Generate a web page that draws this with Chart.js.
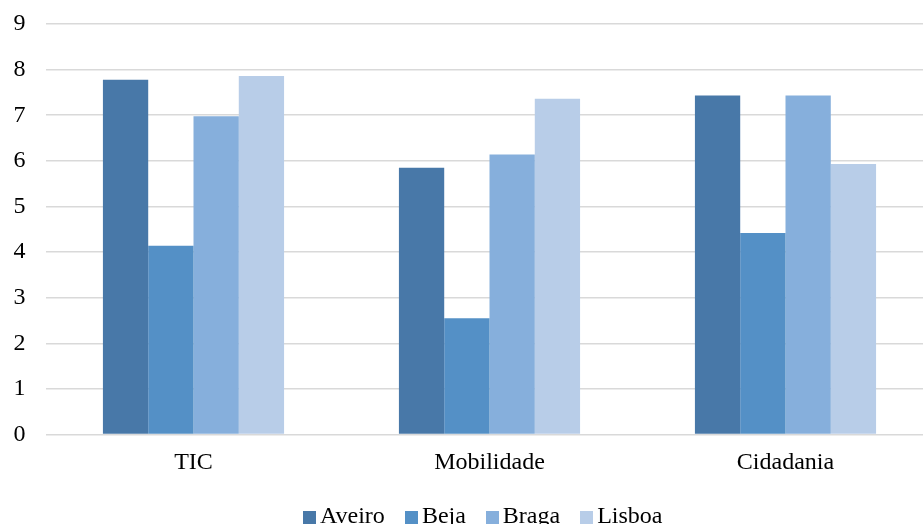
<!DOCTYPE html>
<html>
<head>
<meta charset="utf-8">
<script src="https://cdn.jsdelivr.net/npm/chart.js@4/dist/chart.umd.min.js"></script>
<style>
  html, body { margin: 0; padding: 0; background: #fff; overflow: hidden; width: 923px; height: 524px; }
  #wrap { position: absolute; left: 0; top: 0; }
  #legend {
    position: absolute; left: 303px; top: 503px; white-space: nowrap;
    font-family: 'Liberation Serif', 'Times New Roman', serif; font-size: 24px; line-height: 24px; color: #000;
  }
  #legend .item { display: inline-block; margin-right: 20px; }
  #legend .sw { display: inline-block; width: 13px; height: 13px; margin-right: 4px; vertical-align: -1px; }
</style>
</head>
<body>
<div id="wrap"><canvas id="c" width="945" height="524"></canvas></div>
<div id="legend"></div>
<script>
// Categories and series values
const categories = ['TIC', 'Mobilidade', 'Cidadania'];
const aveiro = [7.78, 5.85, 7.43];
const beja   = [4.14, 2.55, 4.42];
const braga  = [6.98, 6.14, 7.43];
const lisboa = [7.86, 7.36, 5.93];
const seriesNames = ['Aveiro', 'Beja', 'Braga', 'Lisboa'];
const yTicks = [0, 1, 2, 3, 4, 5, 6, 7, 8, 9];

const colors = ['#4878A8', '#5490C6', '#86AFDC', '#B8CDE8'];
const FONT = 'Liberation Serif';

function buildLegend(chart) {
  const box = document.getElementById('legend');
  box.innerHTML = '';
  chart.data.datasets.forEach(ds => {
    const item = document.createElement('span');
    item.className = 'item';
    const sw = document.createElement('span');
    sw.className = 'sw';
    sw.style.background = ds.backgroundColor;
    item.appendChild(sw);
    item.appendChild(document.createTextNode(ds.label));
    box.appendChild(item);
  });
}

function draw() {
  const data = {
    labels: categories,
    datasets: [aveiro, beja, braga, lisboa].map((vals, i) => ({
      label: seriesNames[i],
      data: vals,
      backgroundColor: colors[i],
      borderWidth: 0,
      categoryPercentage: 0.612,
      barPercentage: 1.0
    }))
  };

  const chart = new Chart(document.getElementById('c'), {
    type: 'bar',
    data,
    options: {
      responsive: false,
      animation: false,
      devicePixelRatio: 1,
      layout: { padding: { top: 24, left: 0, right: 11.5, bottom: 0 } },
      plugins: {
        tooltip: { enabled: false },
        legend: { display: false }
      },
      scales: {
        x: {
          grid: { display: false, drawTicks: false },
          border: { display: false },
          ticks: { color: '#000', font: { family: FONT, size: 24 }, padding: 14 },
          afterFit: s => { s.height = 89.5; s.paddingLeft = 0; s.paddingRight = 0; }
        },
        y: {
          min: 0,
          max: 9,
          afterBuildTicks: s => { s.ticks = yTicks.map(v => ({ value: v })); },
          grid: { color: '#d9d9d9', lineWidth: 1.5, drawTicks: false },
          border: { display: false },
          ticks: { color: '#000', font: { family: FONT, size: 24 }, padding: 20 },
          afterFit: s => { s.width = 45.5; s.paddingTop = 0; s.paddingBottom = 0; }
        }
      }
    }
  });
  buildLegend(chart);
}

if (document.fonts && document.fonts.load) {
  document.fonts.load("24px 'Liberation Serif'").then(draw, draw);
} else {
  draw();
}
</script>
</body>
</html>
